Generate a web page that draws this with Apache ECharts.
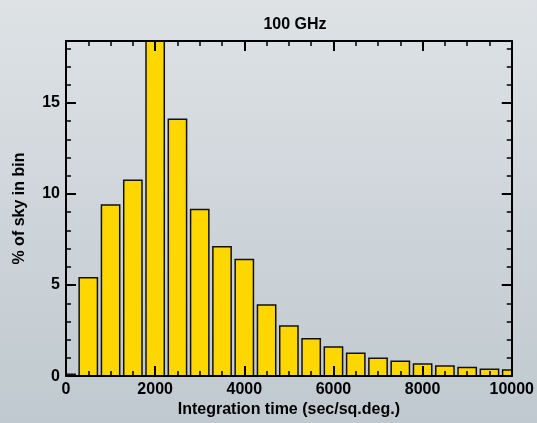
<!DOCTYPE html>
<html>
<head>
<meta charset="utf-8">
<script src="https://cdn.jsdelivr.net/npm/echarts@6/dist/echarts.min.js"></script>
<style>
html, body { margin: 0; padding: 0; }
#chart { width: 537px; height: 423px; }
</style>
</head>
<body>
<div id="chart"></div>
<script>
// bin centres (sec/sq.deg.) and % of sky in each bin
var binCentres = [0, 500, 1000, 1500, 2000, 2500, 3000, 3500, 4000, 4500, 5000,
                  5500, 6000, 6500, 7000, 7500, 8000, 8500, 9000, 9500, 10000];
var skyPercent = [0.1, 5.4, 9.4, 10.75, 19.5, 14.1, 9.15, 7.1, 6.4, 3.9, 2.75,
                  2.05, 1.6, 1.25, 0.98, 0.82, 0.67, 0.56, 0.47, 0.37, 0.34];
var xTicks = [0, 10000, 2000];   // min, max, interval
var yTicks = [0, 18.4, 5];
var barHalf = 205;               // half bar width in data units

var chart = echarts.init(document.getElementById('chart'));

var font = 'Liberation Sans, Arial, sans-serif';
var barData = binCentres.map(function (x, i) { return [x, skyPercent[i]]; });

function plain(v) { return String(v); }

function xAx(pos, showLabel) {
    return {
        type: 'value', position: pos,
        min: xTicks[0], max: xTicks[1], interval: xTicks[2],
        z: 5,
        axisLine: { show: true, onZero: false, lineStyle: { color: '#000', width: 2 } },
        axisTick: { show: true, inside: true, length: 10, lineStyle: { color: '#000', width: 2 } },
        minorTick: { show: true, splitNumber: 4, length: 5, lineStyle: { color: '#000', width: 1.5 } },
        splitLine: { show: false },
        axisLabel: { show: showLabel, margin: 5, color: '#000', fontWeight: 'bold', fontSize: 16, fontFamily: font,
                     showMinLabel: true, showMaxLabel: true, formatter: plain }
    };
}

function yAx(pos, major, showLabel) {
    return {
        type: 'value', position: pos,
        min: yTicks[0], max: yTicks[1], interval: major ? yTicks[2] : 1,
        z: 5,
        axisLine: { show: major, onZero: false, lineStyle: { color: '#000', width: 2 } },
        axisTick: { show: true, inside: true, length: major ? 10 : 5,
                    lineStyle: { color: '#000', width: major ? 2 : 1.5 } },
        splitLine: { show: false },
        axisLabel: { show: showLabel, margin: 6, color: '#000', fontWeight: 'bold', fontSize: 16, fontFamily: font,
                     showMaxLabel: false, formatter: plain }
    };
}

// histogram bar, clipped to the plot frame
function renderBar(params, api) {
    var x = api.value(0), y = api.value(1);
    var p0 = api.coord([x - barHalf, 0]);
    var p1 = api.coord([x + barHalf, y]);
    var rect = echarts.graphic.clipRectByRect({
        x: p0[0], y: p1[1], width: p1[0] - p0[0], height: p0[1] - p1[1]
    }, {
        x: params.coordSys.x, y: params.coordSys.y,
        width: params.coordSys.width, height: params.coordSys.height
    });
    if (!rect) return;
    return {
        type: 'rect',
        shape: rect,
        style: { fill: '#ffd700', stroke: '#111', lineWidth: 1.5 }
    };
}

var option = {
    backgroundColor: new echarts.graphic.LinearGradient(0, 0, 0, 1, [
        { offset: 0, color: '#dee2e5' },
        { offset: 1, color: '#bfc9cf' }
    ]),
    animation: false,
    title: {
        text: '100 GHz', left: 290, top: 12, textAlign: 'center',
        textStyle: { color: '#000', fontSize: 16, fontWeight: 'bold', fontFamily: font }
    },
    grid: { left: 66, right: 22, top: 41, bottom: 38 },
    xAxis: [
        Object.assign(xAx('bottom', true), {
            name: 'Integration time (sec/sq.deg.)', nameLocation: 'middle', nameGap: 20,
            nameTextStyle: { color: '#000', fontWeight: 'bold', fontSize: 16, fontFamily: font }
        }),
        xAx('top', false)
    ],
    yAxis: [
        Object.assign(yAx('left', true, true), {
            name: '% of sky in bin', nameLocation: 'middle', nameGap: 38, nameRotate: 90,
            nameTextStyle: { color: '#000', fontWeight: 'bold', fontSize: 16, fontFamily: font }
        }),
        yAx('left', false, false),
        yAx('right', true, false),
        yAx('right', false, false)
    ],
    series: [{
        type: 'custom',
        xAxisIndex: 0, yAxisIndex: 0,
        renderItem: renderBar,
        encode: { x: 0, y: 1 },
        data: barData
    }]
};

chart.setOption(option);
</script>
</body>
</html>
